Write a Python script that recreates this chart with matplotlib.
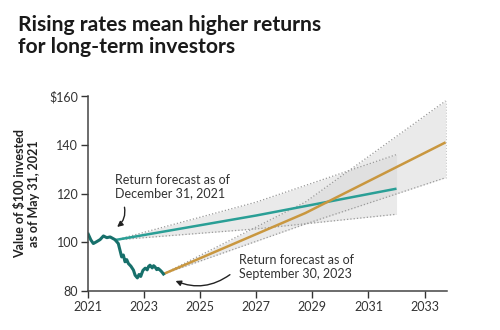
import matplotlib.pyplot as plt

plt.rcParams['font.family'] = ['Lato', 'DejaVu Sans']

# Historical value of $100 (May 31, 2021 = 100)
hist_years = [2021.01, 2021.1, 2021.19, 2021.3, 2021.43, 2021.55, 2021.67, 2021.79, 2021.96,
              2022.08, 2022.2, 2022.26, 2022.32, 2022.38, 2022.44, 2022.53, 2022.62, 2022.68,
              2022.76, 2022.82, 2022.88, 2022.92, 2022.96, 2023.04, 2023.11, 2023.16, 2023.21,
              2023.29, 2023.34, 2023.39, 2023.45, 2023.5, 2023.57, 2023.63, 2023.69]
hist_vals = [103.3, 101.0, 99.5, 100.2, 101.1, 102.6, 101.9, 102.2, 101.1,
             99.5, 94.0, 94.8, 92.0, 92.9, 91.3, 90.2, 88.6, 86.5,
             85.4, 86.8, 86.0, 87.3, 88.5, 89.4, 88.7, 90.1, 90.6,
             89.5, 90.4, 89.9, 88.8, 89.3, 88.6, 87.9, 87.0]

# Forecast as of December 31, 2021
dec21_years = [2022.0, 2027.0, 2032.0]
dec21_mid = [101, 111, 122]
dec21_hi = [101, 116.5, 136]
dec21_lo = [101, 105.5, 111.5]

# Forecast as of September 30, 2023
sep23_years = [2023.69, 2028.75, 2033.75]
sep23_mid = [87, 112, 141]
sep23_hi = [87, 116.5, 158]
sep23_lo = [87, 107.5, 126.5]

x_ticks = [2021, 2023, 2025, 2027, 2029, 2031, 2033]
y_ticks = [80, 100, 120, 140, 160]
y_labels = ['80', '100', '120', '140', '$160']

fig = plt.figure(figsize=(5, 3.3), dpi=100)
ax = fig.add_axes([0.176, 0.118, 0.718, 0.591])

band_fill = '#d9d9d9'
edge = '#9a9a9a'
ax.fill_between(dec21_years, dec21_lo, dec21_hi, color=band_fill, alpha=0.55, lw=0)
ax.fill_between(sep23_years, sep23_lo, sep23_hi, color=band_fill, alpha=0.55, lw=0)
for ys in (dec21_hi, dec21_lo):
    ax.plot(dec21_years, ys, ls=':', color=edge, lw=0.9)
for ys in (sep23_hi, sep23_lo):
    ax.plot(sep23_years, ys, ls=':', color=edge, lw=0.9)
ax.plot([sep23_years[-1]] * 2, [sep23_lo[-1], sep23_hi[-1]], ls=':', color='#c8c8c8', lw=0.8)

ax.plot(dec21_years, dec21_mid, color='#2a9f96', lw=1.8, solid_capstyle='butt')
ax.plot(sep23_years, sep23_mid, color='#c9973f', lw=1.8, solid_capstyle='butt')
ax.plot(hist_years, hist_vals, color='#17706b', lw=2.2)

ax.text(2021.98, 128.2, 'Return forecast as of\nDecember 31, 2021', fontsize=9,
        color='#333333', va='top', ha='left', linespacing=1.2)
ax.text(2026.39, 95.0, 'Return forecast as of\nSeptember 30, 2023', fontsize=9,
        color='#333333', va='top', ha='left', linespacing=1.2)
ax.annotate('', xy=(2021.96, 105.6), xytext=(2022.28, 115.5),
            arrowprops=dict(arrowstyle='-|>', color='#222222', lw=1,
                            connectionstyle='arc3,rad=-0.35', mutation_scale=8))
ax.annotate('', xy=(2024.03, 84.6), xytext=(2026.14, 87.4),
            arrowprops=dict(arrowstyle='-|>', color='#222222', lw=1,
                            connectionstyle='arc3,rad=-0.3', mutation_scale=8))

ax.set_xlim(2021, 2033.8)
ax.set_ylim(80, 160)
ax.set_xticks(x_ticks)
ax.set_yticks(y_ticks)
ax.set_yticklabels(y_labels)
ax.tick_params(labelsize=9, colors='#333333', length=5, width=1, pad=2)
for side in ('top', 'right'):
    ax.spines[side].set_visible(False)
for side in ('left', 'bottom'):
    ax.spines[side].set_color('#444444')
    ax.spines[side].set_linewidth(1.1)
ax.set_ylabel('Value of $100 invested\nas of May 31, 2021', fontsize=9, fontweight='bold',
              color='#222222', linespacing=1.15, labelpad=7)

fig.text(0.036, 0.955, 'Rising rates mean higher returns\nfor long-term investors', fontsize=15.2,
         fontweight='bold', color='#1a1a1a', va='top', ha='left', linespacing=1.12)

fig.savefig('out.png', dpi=100)
